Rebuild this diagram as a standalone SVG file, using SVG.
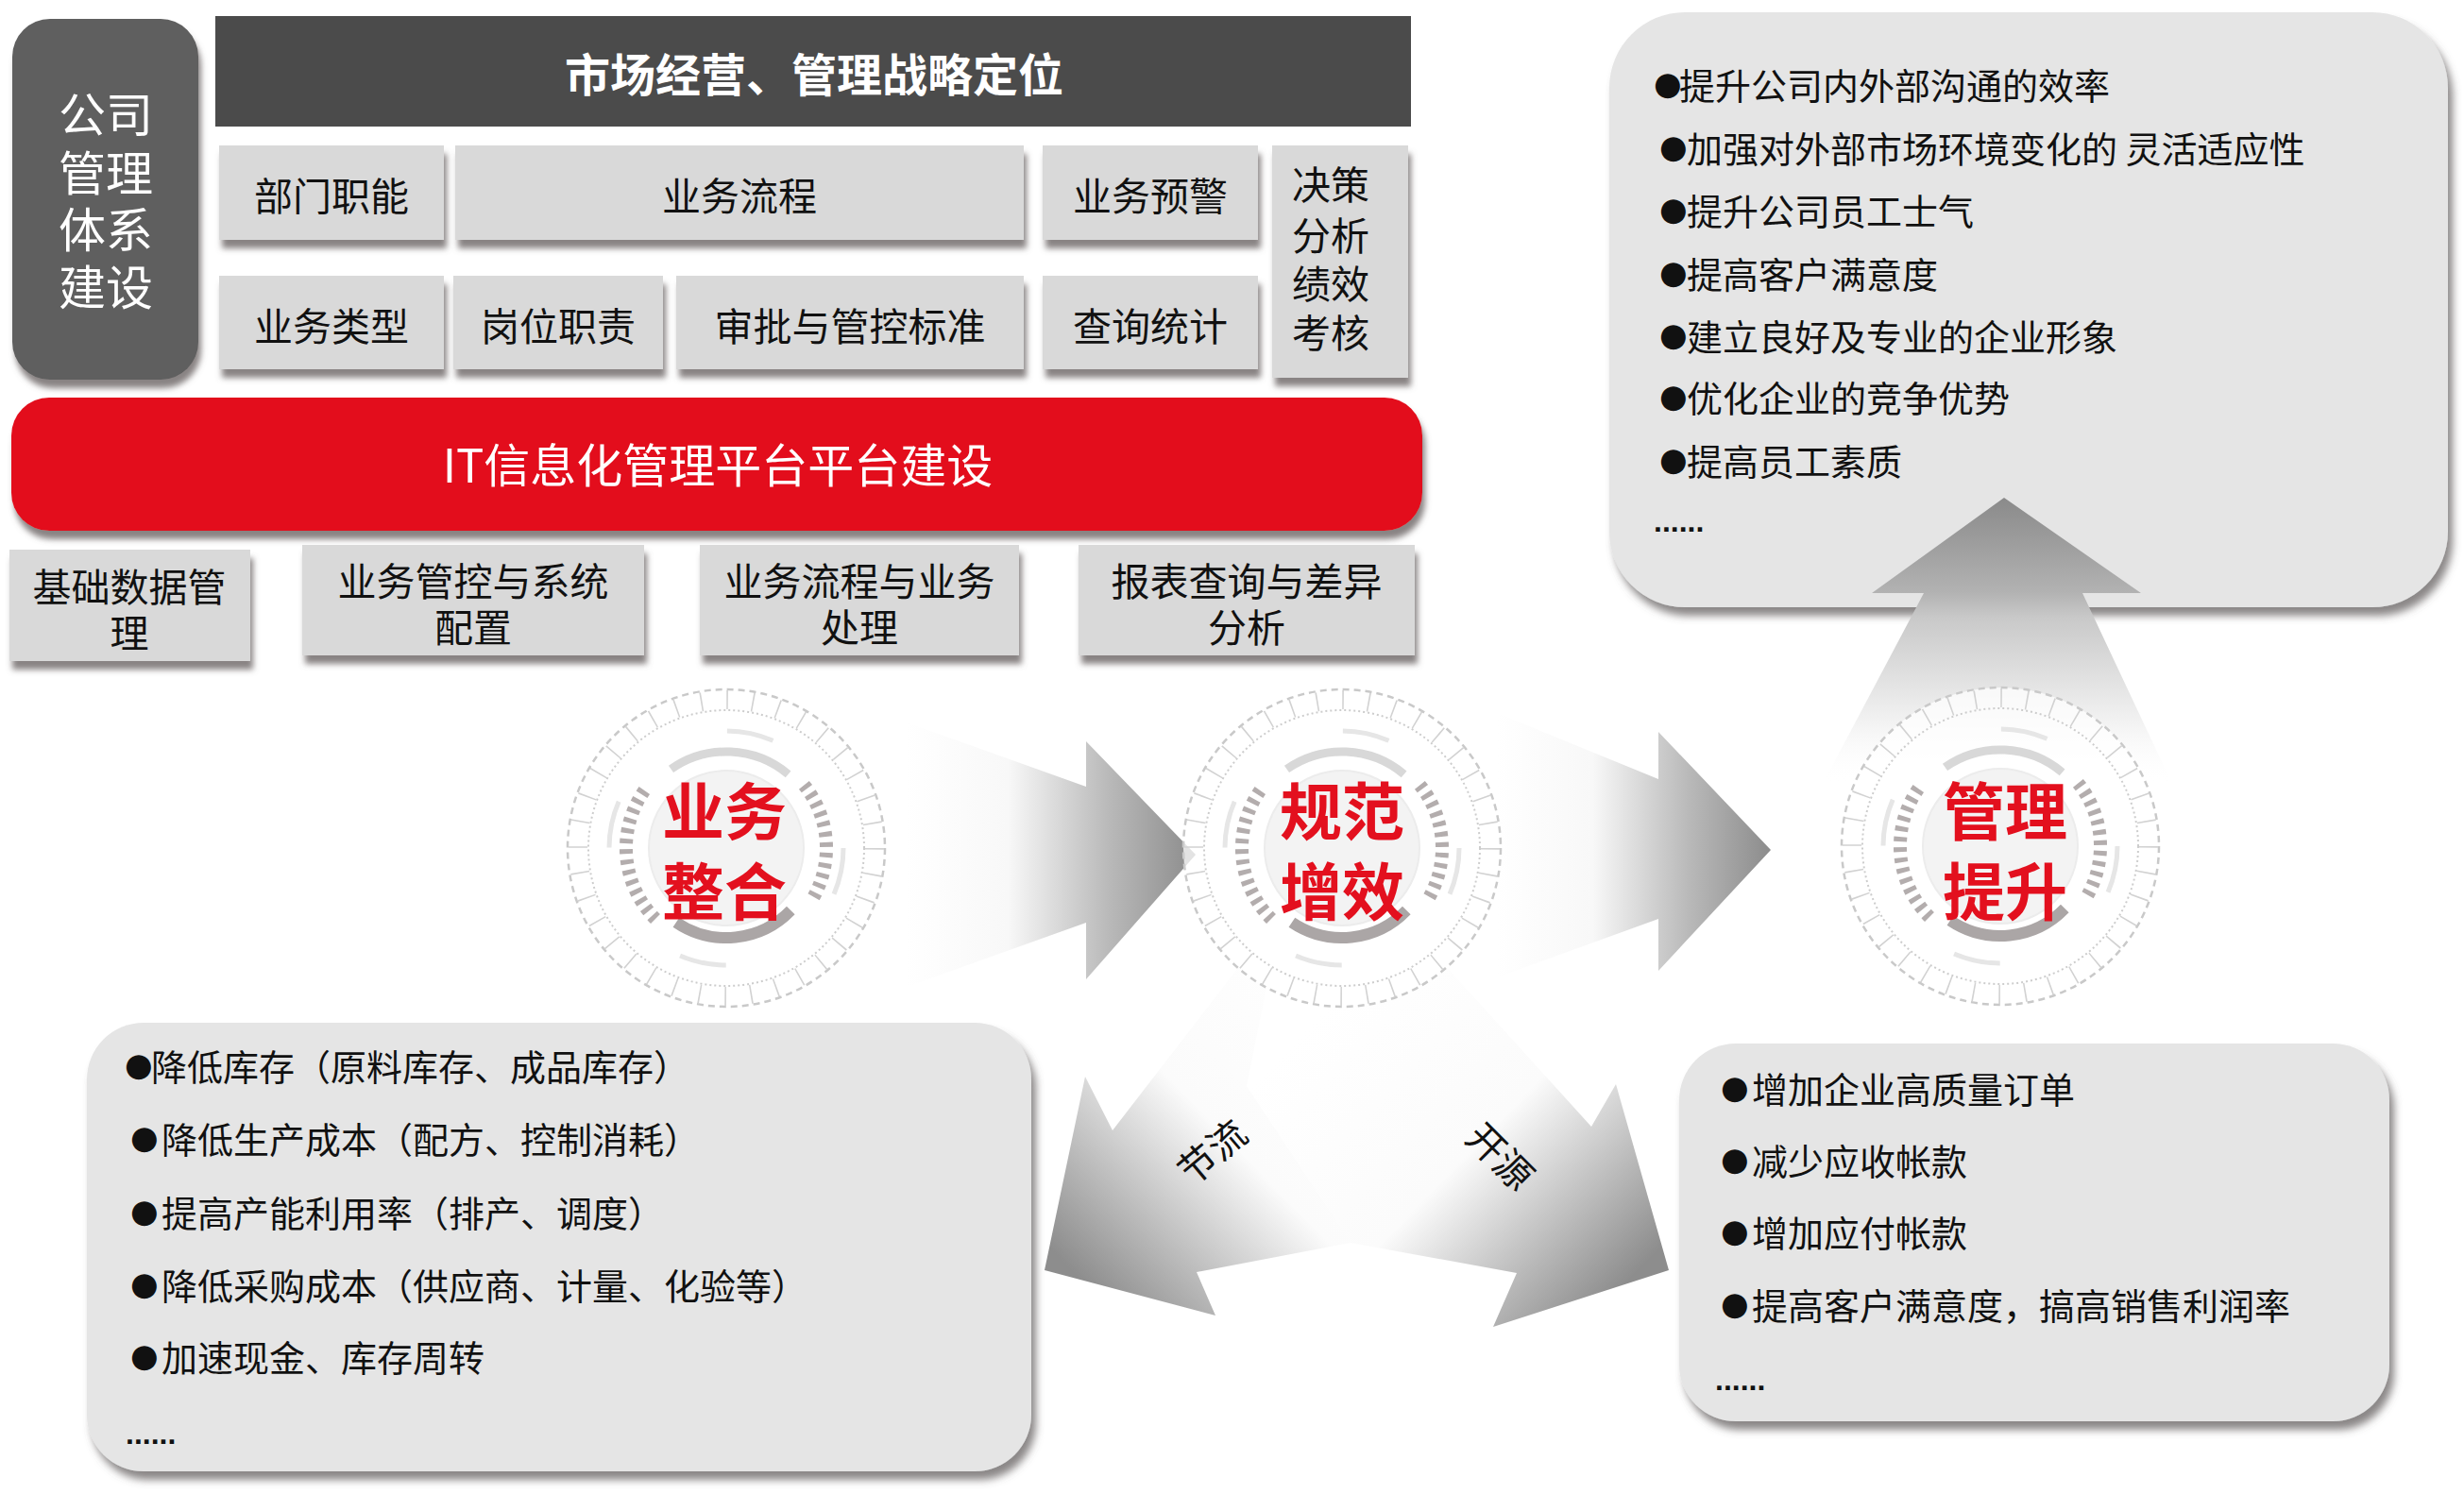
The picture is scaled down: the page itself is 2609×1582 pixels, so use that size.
<svg xmlns="http://www.w3.org/2000/svg" xmlns:xlink="http://www.w3.org/1999/xlink" width="2609" height="1582" viewBox="0 0 2609 1582">
<style>
text{font-family:"Noto Sans CJK SC","Noto Sans",sans-serif;dominant-baseline:central}
.box{fill:#d9d9d9}
.bt{font-size:41px;fill:#111;text-anchor:middle}
.panel{fill:#e5e5e5}
.lt{font-size:38px;fill:#111}
.b{font-family:"DejaVu Sans",sans-serif;font-size:34px}
.dots{font-family:"Liberation Sans",sans-serif;font-weight:bold;font-size:32px;fill:#111}
.red{font-size:66px;font-weight:bold;fill:#e3101e;text-anchor:middle}
.lbl{font-size:40px;fill:#111;text-anchor:middle}
</style>
<defs>
<filter id="sh" x="-10%" y="-10%" width="125%" height="140%">
<feDropShadow dx="3" dy="9" stdDeviation="3" flood-color="#6b6363" flood-opacity="0.8"/>
</filter>
<filter id="shBig" x="-5%" y="-5%" width="115%" height="120%">
<feDropShadow dx="5" dy="9" stdDeviation="4" flood-color="#5a5555" flood-opacity="0.7"/>
</filter>
<linearGradient id="gR" x1="0" y1="0" x2="1" y2="0">
<stop offset="0" stop-color="#ffffff"/>
<stop offset="0.35" stop-color="#f8f8f8"/>
<stop offset="0.7" stop-color="#b9b9b9"/>
<stop offset="1" stop-color="#8c8c8c"/>
</linearGradient>
<linearGradient id="gUp" x1="0" y1="0" x2="0" y2="1">
<stop offset="0" stop-color="#8a8a8a"/>
<stop offset="0.33" stop-color="#b2b2b2"/>
<stop offset="0.42" stop-color="#c9c9c9"/>
<stop offset="0.8" stop-color="#f4f4f4"/>
<stop offset="1" stop-color="#ffffff" stop-opacity="0"/>
</linearGradient>
<linearGradient id="gDL" gradientUnits="userSpaceOnUse" x1="1440" y1="1040" x2="1130" y2="1340">
<stop offset="0" stop-color="#ffffff"/>
<stop offset="0.5" stop-color="#fbfbfb"/>
<stop offset="1" stop-color="#8d8d8d"/>
</linearGradient>
<linearGradient id="gDR" gradientUnits="userSpaceOnUse" x1="1430" y1="1040" x2="1740" y2="1340">
<stop offset="0" stop-color="#ffffff"/>
<stop offset="0.5" stop-color="#fbfbfb"/>
<stop offset="1" stop-color="#8d8d8d"/>
</linearGradient>
<g id="emblem">
<circle r="168" fill="#ffffff" fill-opacity="0.75" stroke="#c9c9c9" stroke-width="2.5" stroke-dasharray="7 5"/>
<circle r="157" fill="none" stroke="#d2d2d2" stroke-width="20" stroke-dasharray="1.6 25.8"/>
<circle r="146" fill="none" stroke="#cdcdcd" stroke-width="2" stroke-dasharray="2 3"/>
<circle r="124" fill="none" stroke="#e6e6e6" stroke-width="5" stroke-dasharray="50 145"/>
<circle r="82" fill="#f3f3f3" stroke="#ececec" stroke-width="2"/>
<path d="M -75 75 A 106 106 0 0 1 -83.5 -65.3" fill="none" stroke="#b3adad" stroke-width="14" stroke-dasharray="5 6"/>
<path d="M 82.4 -66.7 A 106 106 0 0 1 90.9 54.6" fill="none" stroke="#b3adad" stroke-width="14" stroke-dasharray="5 6"/>
<path d="M -58.5 -83.6 A 102 102 0 0 1 65.6 -78.1" fill="none" stroke="#d8d8d8" stroke-width="9"/>
<path d="M 68.3 66 A 95 95 0 0 1 -53.1 78.8" fill="none" stroke="#aba6a6" stroke-width="12"/>
</g>
</defs>

<rect width="2609" height="1582" fill="#ffffff"/>

<g id="connectors">
<polygon points="960,765 1150,833 1150,785 1266,905 1150,1037 1150,977 960,1045" fill="url(#gR)"/>
<polygon points="1585,755 1756,825 1756,775 1875,900 1756,1028 1756,973 1585,1035" fill="url(#gR)"/>
<polygon points="1330,1000 1178,1197 1149,1140 1106,1345 1287,1393 1267,1347 1430,1316 1540,1150 1500,1000" fill="url(#gDL)"/>
<polygon points="1510,1000 1685,1193 1711,1148 1767,1345 1581,1405 1606,1348 1430,1316 1320,1150 1350,1000" fill="url(#gDR)"/>
<text class="lbl" transform="translate(1282,1218) rotate(-40)">节流</text>
<text class="lbl" transform="translate(1590,1223) rotate(45)">开源</text>
</g>

<g id="node-company">
<rect x="13" y="20" width="197" height="382" rx="40" fill="#5e5e5e" filter="url(#sh)"/>
<text font-size="50" fill="#fff" text-anchor="middle"><tspan x="112" y="118">公司</tspan><tspan x="112" y="180">管理</tspan><tspan x="112" y="240">体系</tspan><tspan x="112" y="301">建设</tspan></text>
</g>

<g id="node-title">
<rect x="228" y="17" width="1266" height="117" fill="#4b4b4b"/>
<text x="862" y="76" font-size="48" font-weight="bold" fill="#fff" text-anchor="middle">市场经营、管理战略定位</text>
</g>

<g id="node-bumen"><rect class="box" x="232" y="154" width="238" height="100" filter="url(#sh)"/><text class="bt" x="351" y="205">部门职能</text></g>
<g id="node-liucheng"><rect class="box" x="482" y="154" width="602" height="100" filter="url(#sh)"/><text class="bt" x="783" y="205">业务流程</text></g>
<g id="node-yujing"><rect class="box" x="1104" y="154" width="228" height="100" filter="url(#sh)"/><text class="bt" x="1218" y="205">业务预警</text></g>
<g id="node-juece"><rect class="box" x="1347" y="154" width="144" height="246" filter="url(#sh)"/>
<text class="bt" font-size="40"><tspan x="1409" y="193">决策</tspan><tspan x="1409" y="247">分析</tspan><tspan x="1409" y="298">绩效</tspan><tspan x="1409" y="350">考核</tspan></text></g>
<g id="node-leixing"><rect class="box" x="232" y="292" width="238" height="99" filter="url(#sh)"/><text class="bt" x="351" y="343">业务类型</text></g>
<g id="node-gangwei"><rect class="box" x="480" y="292" width="222" height="99" filter="url(#sh)"/><text class="bt" x="591" y="343">岗位职责</text></g>
<g id="node-shenpi"><rect class="box" x="716" y="292" width="368" height="99" filter="url(#sh)"/><text class="bt" x="900" y="343">审批与管控标准</text></g>
<g id="node-chaxun"><rect class="box" x="1104" y="292" width="228" height="99" filter="url(#sh)"/><text class="bt" x="1218" y="343">查询统计</text></g>

<g id="node-it">
<rect x="12" y="421" width="1494" height="141" rx="40" fill="#e3101e" filter="url(#sh)"/>
<text x="760" y="489" font-size="49" fill="#fff" text-anchor="middle">IT信息化管理平台平台建设</text>
</g>

<g id="node-jichu"><rect class="box" x="10" y="582" width="255" height="118" filter="url(#sh)"/><text class="bt"><tspan x="137" y="619">基础数据管</tspan><tspan x="137" y="668">理</tspan></text></g>
<g id="node-guankong"><rect class="box" x="320" y="577" width="362" height="117" filter="url(#sh)"/><text class="bt"><tspan x="501" y="613">业务管控与系统</tspan><tspan x="501" y="662">配置</tspan></text></g>
<g id="node-chuli"><rect class="box" x="741" y="577" width="338" height="117" filter="url(#sh)"/><text class="bt"><tspan x="910" y="613">业务流程与业务</tspan><tspan x="910" y="662">处理</tspan></text></g>
<g id="node-baobiao"><rect class="box" x="1142" y="577" width="356" height="117" filter="url(#sh)"/><text class="bt"><tspan x="1320" y="613">报表查询与差异</tspan><tspan x="1320" y="662">分析</tspan></text></g>

<g id="node-topright">
<rect class="panel" x="1704" y="13" width="888" height="630" rx="80" filter="url(#shBig)"/>
<polygon points="2122,527 2267,628 2205,628 2300,830 1930,830 2037,628 1982,628" fill="url(#gUp)"/>
<text class="lt" x="1751" y="88"><tspan class="b">●</tspan><tspan x="1778">提升公司内外部沟通的效率</tspan></text>
<text class="lt" x="1757" y="155"><tspan class="b">●</tspan><tspan x="1786">加强对外部市场环境变化的 灵活适应性</tspan></text>
<text class="lt" x="1757" y="221"><tspan class="b">●</tspan><tspan x="1786">提升公司员工士气</tspan></text>
<text class="lt" x="1757" y="288"><tspan class="b">●</tspan><tspan x="1786">提高客户满意度</tspan></text>
<text class="lt" x="1757" y="354"><tspan class="b">●</tspan><tspan x="1786">建立良好及专业的企业形象</tspan></text>
<text class="lt" x="1757" y="419"><tspan class="b">●</tspan><tspan x="1786">优化企业的竞争优势</tspan></text>
<text class="lt" x="1757" y="486"><tspan class="b">●</tspan><tspan x="1786">提高员工素质</tspan></text>
<text class="dots" x="1751" y="552">......</text>
</g>

<g id="node-yewu"><use xlink:href="#emblem" href="#emblem" x="769" y="898"/><text class="red"><tspan x="767" y="855">业务</tspan><tspan x="767" y="940">整合</tspan></text></g>
<g id="node-guifan"><use xlink:href="#emblem" href="#emblem" x="1421" y="898"/><text class="red"><tspan x="1421" y="855">规范</tspan><tspan x="1421" y="940">增效</tspan></text></g>
<g id="node-guanli"><use xlink:href="#emblem" href="#emblem" x="2118" y="896"/><text class="red"><tspan x="2123" y="855">管理</tspan><tspan x="2123" y="940">提升</tspan></text></g>

<g id="node-bottomleft">
<rect class="panel" x="92" y="1083" width="1000" height="475" rx="60" filter="url(#shBig)"/>
<text class="lt" x="132" y="1127"><tspan class="b">●</tspan><tspan x="160">降低库存（原料库存、成品库存）</tspan></text>
<text class="lt" x="138" y="1204"><tspan class="b">●</tspan><tspan x="171">降低生产成本（配方、控制消耗）</tspan></text>
<text class="lt" x="138" y="1282"><tspan class="b">●</tspan><tspan x="171">提高产能利用率（排产、调度）</tspan></text>
<text class="lt" x="138" y="1359"><tspan class="b">●</tspan><tspan x="171">降低采购成本（供应商、计量、化验等）</tspan></text>
<text class="lt" x="138" y="1435"><tspan class="b">●</tspan><tspan x="171">加速现金、库存周转</tspan></text>
<text class="dots" x="133" y="1518">......</text>
</g>

<g id="node-bottomright">
<rect class="panel" x="1778" y="1105" width="752" height="400" rx="60" filter="url(#shBig)"/>
<text class="lt" x="1822" y="1151"><tspan class="b">●</tspan><tspan x="1855">增加企业高质量订单</tspan></text>
<text class="lt" x="1822" y="1227"><tspan class="b">●</tspan><tspan x="1855">减少应收帐款</tspan></text>
<text class="lt" x="1822" y="1303"><tspan class="b">●</tspan><tspan x="1855">增加应付帐款</tspan></text>
<text class="lt" x="1822" y="1380"><tspan class="b">●</tspan><tspan x="1855">提高客户满意度，搞高销售利润率</tspan></text>
<text class="dots" x="1816" y="1461">......</text>
</g>
</svg>
